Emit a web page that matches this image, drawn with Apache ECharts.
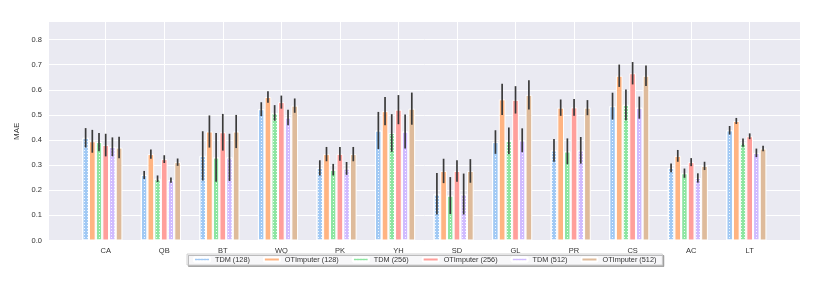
<!DOCTYPE html>
<html>
<head>
<meta charset="utf-8">
<script src="https://cdn.jsdelivr.net/npm/echarts@6/dist/echarts.min.js"></script>
<style>
html,body{margin:0;padding:0;background:#fff;}
#chart{width:822px;height:290px;}
</style>
</head>
<body>
<div id="chart"></div>
<script>
const categories = ['CA','QB','BT','WQ','PK','YH','SD','GL','PR','CS','AC','LT'];
const seriesNames = ['TDM (128)','OTImputer (128)','TDM (256)','OTImputer (256)','TDM (512)','OTImputer (512)'];
const yTicks = [0,0.1,0.2,0.3,0.4,0.5,0.6,0.7,0.8];

const tdm128   = [0.409,0.261,0.337,0.523,0.289,0.438,0.186,0.392,0.359,0.535,0.289,0.439];
const ot128    = [0.395,0.344,0.434,0.571,0.344,0.515,0.277,0.562,0.529,0.656,0.337,0.476];
const tdm256   = [0.392,0.246,0.331,0.508,0.282,0.428,0.179,0.397,0.355,0.540,0.268,0.390];
const ot256    = [0.380,0.324,0.431,0.551,0.345,0.521,0.277,0.560,0.530,0.666,0.312,0.415];
const tdm512   = [0.373,0.240,0.331,0.490,0.287,0.434,0.185,0.399,0.359,0.529,0.249,0.349];
const ot512    = [0.370,0.312,0.434,0.537,0.344,0.525,0.277,0.580,0.529,0.656,0.297,0.366];

const tdm128Err = [0.0385,0.016,0.098,0.0275,0.0305,0.074,0.0825,0.047,0.045,0.0535,0.0175,0.017];
const ot128Err  = [0.0455,0.0185,0.064,0.023,0.0285,0.0565,0.0485,0.0625,0.0325,0.0445,0.0235,0.012];
const tdm256Err = [0.0365,0.013,0.0975,0.031,0.023,0.075,0.0735,0.053,0.0515,0.0615,0.0185,0.0165];
const ot256Err  = [0.045,0.0155,0.073,0.026,0.027,0.058,0.043,0.0545,0.033,0.0445,0.016,0.0115];
const tdm512Err = [0.0375,0.0105,0.094,0.031,0.0255,0.068,0.0815,0.0475,0.053,0.044,0.0185,0.017];
const ot512Err  = [0.043,0.0145,0.066,0.0285,0.0285,0.064,0.047,0.058,0.03,0.0405,0.0165,0.011];

const colors = ['#a1c9f4','#ffb482','#8de5a1','#ff9f9b','#d0bbff','#debb9b'];
const hatched = [true,false,true,false,true,false];

const values = [tdm128, ot128, tdm256, ot256, tdm512, ot512];
const errs = [tdm128Err, ot128Err, tdm256Err, ot256Err, tdm512Err, ot512Err];

const Y_MAX = 0.87;
const SLOTS = 7;
const FONT = '"Liberation Sans", Arial, sans-serif';

function makeDecal() {
  return {
    symbol: 'rect',
    symbolSize: 1,
    color: 'rgba(255,255,255,0.85)',
    dashArrayX: [1, 2],
    dashArrayY: [1, 2],
    rotation: 0
  };
}

const series = [];
values.forEach((vals, i) => {
  const itemStyle = {
    color: colors[i],
    borderColor: '#ffffff',
    borderWidth: 1
  };
  if (hatched[i]) itemStyle.decal = makeDecal();
  series.push({
    name: seriesNames[i],
    type: 'bar',
    xAxisIndex: 1, yAxisIndex: 1,
    data: vals,
    barWidth: (80 / SLOTS).toFixed(3) + '%',
    barGap: '0%',
    clip: false,
    itemStyle: itemStyle,
    z: 2
  });
});
// empty seventh slot (matplotlib layout offset)
series.push({
  name: 'pad', type: 'bar', xAxisIndex: 1, yAxisIndex: 1,
  data: categories.map(() => '-'), barWidth: (80 / SLOTS).toFixed(3) + '%', barGap: '0%', clip: false
});

const errData = [];
values.forEach((vals, i) => {
  vals.forEach((v, c) => errData.push([c, v, errs[i][c], i]));
});

series.push({
  type: 'custom',
  xAxisIndex: 1, yAxisIndex: 1,
  clip: false,
  z: 5,
  data: errData,
  renderItem: function (params, api) {
    const c = api.value(0), v = api.value(1), e = api.value(2), s = api.value(3);
    const band = api.size([1, 0])[0];
    const w = band * 0.8 / SLOTS;
    const top = api.coord([c, v + e]);
    const bot = api.coord([c, v - e]);
    const x = top[0] + (s - 3) * w;
    return {
      type: 'line',
      shape: { x1: x, y1: top[1], x2: x, y2: bot[1] },
      style: { stroke: '#3a3a3a', lineWidth: 1.7 }
    };
  }
});

const chart = echarts.init(document.getElementById('chart'), null, { renderer: 'canvas' });
chart.setOption({
  animation: false,
  textStyle: { fontFamily: FONT },
  grid: [
    { left: 49, right: 22, top: 22, bottom: 49.5, show: true, backgroundColor: '#EAEAF2', borderWidth: 0 },
    { left: 105.7, right: 72.3, top: 22, bottom: 49.5 }
  ],
  xAxis: [
    { gridIndex: 0, type: 'value', min: 0, max: 1, show: false },
    {
      gridIndex: 1, type: 'category', data: categories, boundaryGap: false,
      axisLine: { show: false }, axisTick: { show: false },
      axisLabel: { fontSize: 7.5, color: '#333', margin: 6, fontFamily: FONT, interval: 0 },
      splitLine: { show: true, lineStyle: { color: '#ffffff', width: 1 } }
    }
  ],
  yAxis: [
    {
      gridIndex: 0, type: 'value', min: 0, max: Y_MAX, interval: 0.1,
      name: 'MAE', nameLocation: 'middle', nameGap: 22, nameRotate: 90,
      nameTextStyle: { fontSize: 8, color: '#333', fontFamily: FONT },
      axisLine: { show: false }, axisTick: { show: false },
      axisLabel: {
        fontSize: 7.5, color: '#333', margin: 7, fontFamily: FONT, showMaxLabel: false,
        formatter: v => (yTicks.some(t => Math.abs(t - v) < 1e-9) ? v.toFixed(1) : '')
      },
      splitLine: { show: true, showMaxLine: false, lineStyle: { color: '#ffffff', width: 1 } }
    },
    { gridIndex: 1, type: 'value', min: 0, max: Y_MAX, show: false }
  ],
  legend: {
    data: seriesNames,
    left: 187, top: 254,
    orient: 'horizontal',
    itemWidth: 16, itemHeight: 4, itemGap: 13,
    padding: [2, 6],
    backgroundColor: '#f7f7f9',
    borderColor: '#c8c8c8', borderWidth: 0.8,
    shadowColor: 'rgba(0,0,0,0.3)', shadowBlur: 0, shadowOffsetX: 1.5, shadowOffsetY: 1.5,
    textStyle: { fontSize: 7.3, color: '#333', fontFamily: FONT }
  },
  series: series
});
</script>
</body>
</html>
